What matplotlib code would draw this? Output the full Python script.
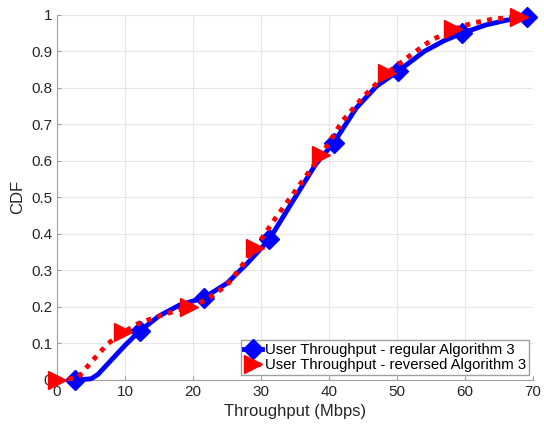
import matplotlib.pyplot as plt

plt.rcParams['font.family'] = ['Liberation Sans', 'DejaVu Sans']

# regular Algorithm 3 curve
x_reg = [2.7, 5, 6, 8, 10, 12.2, 15, 18, 21.6, 25, 28, 31.2, 35, 38, 40.7,
         44, 47, 50.1, 54, 57, 59.6, 63, 66, 69.1]
y_reg = [0, 0.003, 0.015, 0.055, 0.095, 0.135, 0.175, 0.205, 0.225, 0.265, 0.32,
         0.385, 0.5, 0.59, 0.65, 0.745, 0.805, 0.845, 0.9, 0.93, 0.95, 0.972,
         0.985, 0.995]
mk_reg = [0, 5, 8, 11, 14, 17, 20, 23]

# reversed Algorithm 3 curve
x_rev = [0, 3, 5.3, 7.5, 9.7, 12, 15, 19.4, 22, 25, 29.1, 32, 35.5, 38.8, 42,
         45, 48.5, 52, 55, 58.2, 61, 64, 67.9]
y_rev = [0, 0.005, 0.055, 0.1, 0.13, 0.155, 0.175, 0.2, 0.22, 0.26, 0.36, 0.44,
         0.53, 0.615, 0.71, 0.775, 0.84, 0.89, 0.93, 0.96, 0.977, 0.988, 0.995]
mk_rev = [0, 4, 7, 10, 13, 16, 19, 22]

fig = plt.figure(figsize=(5.44, 4.24), dpi=100)
ax = fig.add_axes([0.105, 0.104, 0.875, 0.861])

ax.plot(x_reg, y_reg, color='blue', lw=3.5, marker='D', ms=10,
        markevery=mk_reg, clip_on=False, zorder=3,
        label='User Throughput - regular Algorithm 3')
ax.plot(x_rev, y_rev, color='red', lw=3.5, ls=(0, (1, 1.3)), marker='>', ms=13,
        markevery=mk_rev, clip_on=False, zorder=4,
        label='User Throughput - reversed Algorithm 3')

ax.set_xlim(0, 70)
ax.set_ylim(0, 1)
ax.set_xticks(range(0, 71, 10))
ax.set_yticks([i / 10 for i in range(11)])
ax.set_yticklabels(['0', '0.1', '0.2', '0.3', '0.4', '0.5', '0.6', '0.7', '0.8', '0.9', '1'])
ax.grid(True, color='#e6e6e6', lw=0.8)
ax.set_axisbelow(True)
for s in ['top', 'right']:
    ax.spines[s].set_visible(False)
for s in ['left', 'bottom']:
    ax.spines[s].set_color('#a0a0a0')
ax.tick_params(direction='in', length=3, colors='#a0a0a0', labelcolor='#262626', labelsize=11)
ax.set_xlabel('Throughput (Mbps)', fontsize=12, color='#262626')
ax.set_ylabel('CDF', fontsize=12, color='#262626')

leg = ax.legend(loc='lower right', fontsize=10.7, handlelength=1.2, handletextpad=0.2,
                borderpad=0.2, labelspacing=0.1, fancybox=False, framealpha=1,
                borderaxespad=0.3)
leg.get_frame().set_edgecolor('#a0a0a0')

fig.savefig('out.png', dpi=100)
